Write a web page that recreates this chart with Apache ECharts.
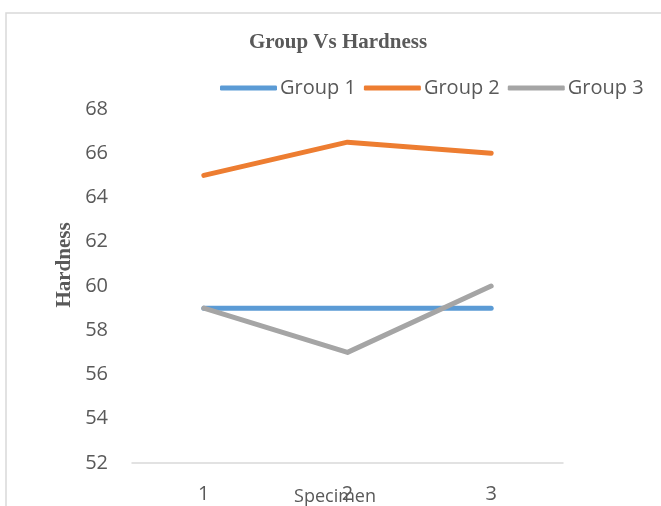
<!DOCTYPE html>
<html>
<head>
<meta charset="utf-8">
<script src="https://cdn.jsdelivr.net/npm/echarts@6/dist/echarts.min.js"></script>
<style>
html,body{margin:0;padding:0;background:#fff;}
#chart{width:661px;height:506px;}
</style>
</head>
<body>
<div id="chart"></div>
<script>
// Specimen numbers along the x axis
const specimens = ['1', '2', '3'];
// Hardness readings per group
const group1 = [59, 59, 59];
const group2 = [65, 66.5, 66];
const group3 = [59, 57, 60];
const seriesNames = ['Group 1', 'Group 2', 'Group 3'];
const seriesColors = ['#5B9BD5', '#ED7D31', '#A5A5A5'];

const chart = echarts.init(document.getElementById('chart'));
const lineSeries = [group1, group2, group3].map((vals, i) => ({
  name: seriesNames[i],
  type: 'line',
  data: vals,
  symbol: 'none',
  lineStyle: { width: 5, color: seriesColors[i], cap: 'round', join: 'round' },
  itemStyle: { color: seriesColors[i] },
  z: 2 + (i === 2 ? 1 : 0)
}));

chart.setOption({
  animation: false,
  backgroundColor: '#fff',
  title: {
    text: 'Group Vs Hardness',
    left: 333, top: 27,
    textAlign: 'center',
    textStyle: { fontFamily: 'Liberation Serif', fontWeight: 'bold', fontSize: 21, color: '#595959' }
  },
  legend: {
    data: seriesNames,
    left: 215, top: 73,
    itemWidth: 57, itemHeight: 5,
    itemGap: 8,
    icon: 'roundRect',
    textStyle: { fontFamily: 'Open Sans', fontSize: 20, color: '#595959', padding: [0, 0, 0, -2] }
  },
  grid: { left: 132, right: 98, top: 109, bottom: 43 },
  xAxis: {
    type: 'category',
    data: specimens,
    boundaryGap: true,
    axisLine: { lineStyle: { color: '#D9D9D9', width: 1.5 } },
    axisTick: { show: false },
    axisLabel: { margin: 21, fontFamily: 'Open Sans', fontSize: 20, color: '#595959' }
  },
  yAxis: {
    type: 'value',
    min: 52, max: 68, interval: 2,
    axisLine: { show: false },
    axisTick: { show: false },
    splitLine: { show: false },
    axisLabel: { margin: 24, fontFamily: 'Open Sans', fontSize: 20, color: '#595959' }
  },
  graphic: [
    {
      type: 'polyline',
      shape: { points: [[6, 506], [6, 13], [661, 13]] },
      style: { stroke: '#D9D9D9', lineWidth: 1.5, fill: null },
      silent: true
    },
    {
      type: 'text',
      x: 65, y: 265, rotation: Math.PI / 2,
      style: {
        text: 'Hardness', textAlign: 'center', textVerticalAlign: 'middle',
        font: 'bold 21px "Liberation Serif"', fill: '#595959'
      }
    },
    {
      type: 'text',
      x: 335, y: 497,
      style: {
        text: 'Specimen', textAlign: 'center', textVerticalAlign: 'middle',
        font: '18px "Open Sans"', fill: '#595959'
      }
    }
  ],
  series: lineSeries
});
</script>
</body>
</html>
